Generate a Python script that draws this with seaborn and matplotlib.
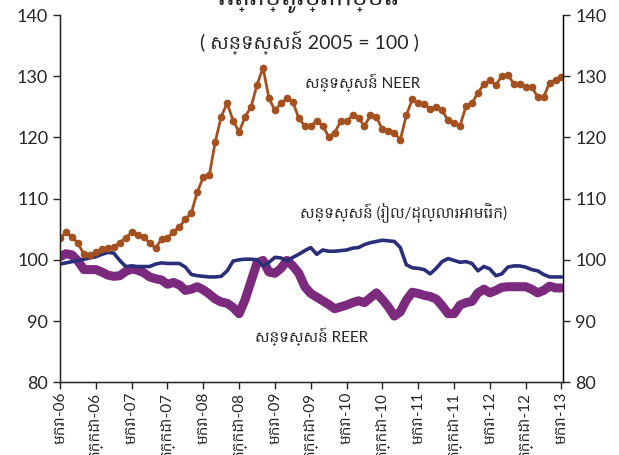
import numpy as np
import pandas as pd
import matplotlib
matplotlib.use("Agg")
import matplotlib.pyplot as plt
import seaborn as sns

sns.set_style("white")
plt.rcParams['font.family'] = ['Lato', 'Hanuman', 'Battambang', 'DejaVu Sans']

# monthly index values, Jan-2006 .. Jan-2013
months = pd.date_range("2006-01-01", "2013-01-01", freq="MS")

neer = [103.5, 104.5, 103.8, 102.7, 100.9, 100.8, 101.3, 101.7, 101.9, 102.1,
        102.8, 103.6, 104.5, 104.1, 103.8, 102.7, 101.9, 103.4, 103.6, 104.6,
        105.4, 106.6, 107.7, 111.1, 113.5, 113.8, 119.3, 123.4, 125.6, 122.7,
        120.9, 123.4, 125.0, 128.6, 131.4, 126.4, 124.4, 125.6, 126.4, 125.8,
        123.1, 121.9, 121.9, 122.7, 121.9, 120.1, 120.8, 122.6, 122.6, 123.6,
        123.1, 121.9, 123.6, 123.3, 121.3, 121.1, 120.8, 119.6, 123.6, 126.2,
        125.6, 125.4, 124.7, 125.0, 124.4, 122.8, 122.3, 121.9, 125.1, 125.6,
        127.3, 128.7, 129.3, 128.6, 130.0, 130.2, 128.8, 128.7, 128.2, 128.3,
        126.6, 126.6, 128.9, 129.4, 129.9]

khr_usd = [99.3, 99.5, 99.7, 99.9, 100.1, 100.3, 100.5, 100.9, 101.2, 101.1,
           99.9, 98.9, 99.0, 98.9, 98.9, 98.9, 99.3, 99.5, 99.4, 99.4,
           99.4, 98.8, 97.6, 97.4, 97.3, 97.2, 97.2, 97.3, 98.2, 99.8,
           100.0, 100.1, 100.1, 100.0, 99.0, 99.6, 100.4, 100.3, 99.8, 100.4,
           100.9, 101.5, 102.0, 100.9, 101.6, 101.4, 101.4, 101.5, 101.6, 101.9,
           102.0, 102.5, 102.8, 103.0, 103.2, 103.1, 103.0, 102.0, 99.2, 98.7,
           98.6, 98.4, 97.7, 98.6, 99.7, 100.2, 99.9, 99.6, 99.7, 99.4,
           98.2, 98.9, 98.5, 97.4, 97.7, 98.8, 99.0, 99.0, 98.8, 98.4,
           98.2, 97.6, 97.2, 97.2, 97.2]

reer = [100.5, 101.0, 100.8, 99.8, 98.4, 98.4, 98.4, 98.0, 97.5, 97.3,
        97.4, 98.1, 98.5, 98.3, 97.9, 97.2, 96.9, 96.7, 96.0, 96.3,
        95.9, 95.0, 95.2, 95.6, 95.1, 94.4, 93.6, 93.1, 92.9, 92.2,
        91.2, 93.5, 96.5, 99.5, 99.9, 98.0, 97.8, 98.6, 99.9, 99.0,
        97.8, 95.6, 94.5, 93.9, 93.3, 92.7, 92.0, 92.3, 92.6, 93.0,
        93.3, 93.0, 93.8, 94.6, 93.5, 92.3, 90.8, 91.5, 93.4, 94.7,
        94.5, 94.2, 94.0, 93.6, 92.5, 91.2, 91.2, 92.6, 93.0, 93.2,
        94.6, 95.2, 94.6, 95.0, 95.5, 95.6, 95.6, 95.6, 95.6, 95.2,
        94.6, 95.0, 95.7, 95.4, 95.4]

df = pd.DataFrame({"month": np.arange(len(months)), "neer": neer,
                   "usd": khr_usd, "reer": reer})

# x labels every 6 months : មករា (Jan) / កក្កដា (Jul)
tick_pos = list(range(0, len(months), 6))
tick_lab = [("មករា" if months[i].month == 1 else "កក្កដា") + "-" + months[i].strftime("%y")
            for i in tick_pos]

fig = plt.figure(figsize=(6.19, 4.55), dpi=100)
ax = fig.add_axes([0.097, 0.160, 0.813, 0.807])

sns.lineplot(data=df, x="month", y="reer", ax=ax, color="#7B2A7E", linewidth=6.5)
sns.lineplot(data=df, x="month", y="usd", ax=ax, color="#2B2F7A", linewidth=2.6)
sns.lineplot(data=df, x="month", y="neer", ax=ax, color="#A4501F", linewidth=2,
             marker="o", markersize=5.5, markeredgewidth=0)

ax.set_xlim(0, 84.3)
ax.set_ylim(80, 140)
ax.set_yticks(range(80, 141, 10))
ax.set_xticks(tick_pos)
ax.set_xticklabels(tick_lab, rotation=90, fontsize=11)
ax.set_xlabel("")
ax.set_ylabel("")
ax.tick_params(axis="y", labelsize=13, direction="out", length=5, width=1, left=True)
ax.tick_params(axis="x", direction="out", length=5, width=1, bottom=True, pad=2)
ax.spines["top"].set_visible(False)
for s in ["left", "bottom", "right"]:
    ax.spines[s].set_color("black")
    ax.spines[s].set_linewidth(1)

ax2 = ax.twinx()
ax2.set_ylim(80, 140)
ax2.set_yticks(range(80, 141, 10))
ax2.tick_params(axis="y", labelsize=13, direction="out", length=5, width=1, right=True)
ax2.spines["top"].set_visible(False)
ax2.spines["right"].set_color("black")

# titles and series labels
fig.text(0.5, 0.972, "អត្រាប្តូរប្រាក់ខ្មែរ", ha="center", va="bottom", fontsize=18,
         fontweight="bold")
fig.text(0.5, 0.905, "( សន្ទស្សន៍ 2005 = 100 )", ha="center", va="center", fontsize=14)
ax.text(41, 129.0, "សន្ទស្សន៍ NEER", fontsize=11, va="center")
ax.text(40.2, 107.6, "សន្ទស្សន៍ (រៀល/ដុល្លារអាមេរិក)", fontsize=11, va="center")
ax.text(32.6, 87.4, "សន្ទស្សន៍ REER", fontsize=11, va="center")

fig.savefig("out.png", dpi=100)
